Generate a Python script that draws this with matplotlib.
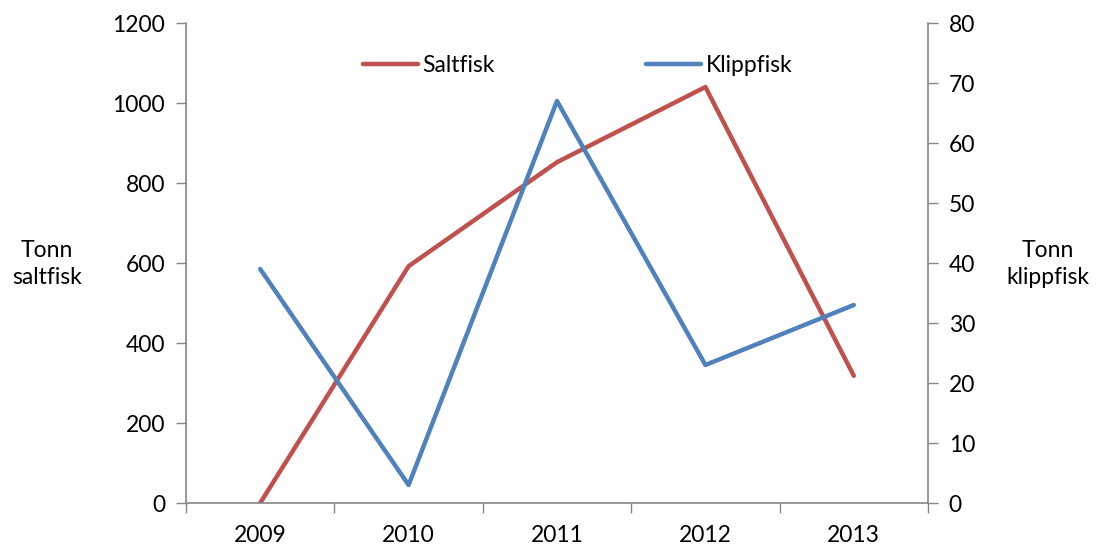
import numpy as np
import matplotlib.pyplot as plt

years = ["2009", "2010", "2011", "2012", "2013"]
saltfisk = [0, 592, 852, 1040, 318]
klippfisk = [39, 3, 67, 23, 33]

plt.rcParams['font.family'] = ['Lato', 'DejaVu Sans']
fs = 16.5
grey = "#868686"

fig = plt.figure(figsize=(11.01, 5.49), dpi=100)
ax = fig.add_axes([186/1101, 1 - 503/549, (928 - 186)/1101, 480/549])
ax2 = ax.twinx()

x = np.arange(len(years))
l1, = ax.plot(x, saltfisk, color="#C0504D", lw=3.2, solid_capstyle="round", label="Saltfisk")
l2, = ax2.plot(x, klippfisk, color="#4F81BD", lw=3.2, solid_capstyle="round", label="Klippfisk")

ax.set_xlim(-0.5, len(years) - 0.5)
ax.set_ylim(0, 1200)
ax2.set_ylim(0, 80)
ax.set_yticks(np.arange(0, 1201, 200))
ax2.set_yticks(np.arange(0, 81, 10))

# category labels in the middle, tick marks between categories
ax.set_xticks(x)
ax.set_xticklabels(years, fontsize=fs)
ax.tick_params(axis="x", length=0, pad=16)
ax.set_xticks(np.arange(-0.5, len(years)), minor=True)
ax.tick_params(axis="x", which="minor", length=7, color=grey, width=1)

ax.tick_params(axis="y", labelsize=fs, length=7, color=grey, width=1, pad=8)
ax2.tick_params(axis="y", labelsize=fs, length=7, color=grey, width=1, pad=8)

for a in (ax, ax2):
    for s in a.spines.values():
        s.set_visible(False)
ax.spines["left"].set_visible(True)
ax.spines["bottom"].set_visible(True)
ax2.spines["right"].set_visible(True)
for s in (ax.spines["left"], ax.spines["bottom"], ax2.spines["right"]):
    s.set_color(grey)
    s.set_linewidth(1.2)

fig.text(47/1101, 1 - 264/549, "Tonn\nsaltfisk", ha="center", va="center", fontsize=fs, linespacing=1.3)
fig.text(1048/1101, 1 - 264/549, "Tonn\nklippfisk", ha="center", va="center", fontsize=fs, linespacing=1.3)

ax.legend([l1, l2], ["Saltfisk", "Klippfisk"], loc="center left",
          bbox_to_anchor=((363 - 186)/742, (503 - 66)/480), ncol=2, frameon=False,
          fontsize=fs, handlelength=2.4, handletextpad=0.2, columnspacing=6.6,
          borderaxespad=0, borderpad=0)

fig.savefig("out.png", dpi=100)
